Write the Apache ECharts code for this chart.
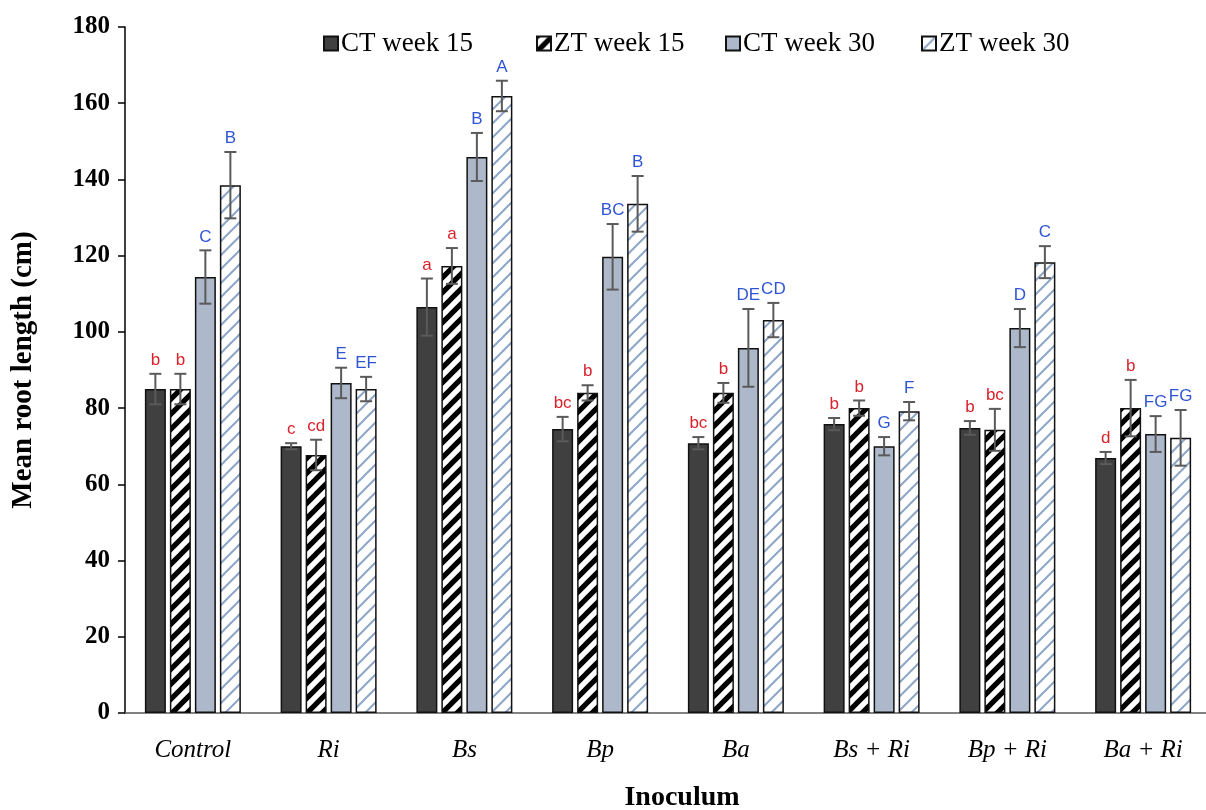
<!DOCTYPE html>
<html>
<head>
<meta charset="utf-8">
<script src="https://cdn.jsdelivr.net/npm/echarts@6/dist/echarts.min.js"></script>
<style>
  html, body { margin: 0; padding: 0; background: #fff; overflow: hidden; }
  #chart { width: 1206px; height: 810px; }
</style>
</head>
<body>
<div id="chart"></div>
<script>
const categories = ['Control', 'Ri', 'Bs', 'Bp', 'Ba', 'Bs + Ri', 'Bp + Ri', 'Ba + Ri'];
const seriesNames = ['CT week 15', 'ZT week 15', 'CT week 30', 'ZT week 30'];

const ct15 = [85, 70, 106.5, 74.5, 70.8, 75.8, 74.8, 66.9];
const ct15Err = [4, 0.8, 7.5, 3.2, 1.6, 1.6, 1.8, 1.6];
const ct15Letters = ['b', 'c', 'a', 'bc', 'bc', 'b', 'b', 'd'];

const zt15 = [85, 67.7, 117.3, 84, 84, 80, 74.3, 80];
const zt15Err = [4, 4, 4.7, 2, 2.6, 2, 5.5, 7.4];
const zt15Letters = ['b', 'cd', 'a', 'b', 'b', 'b', 'bc', 'b'];

const ct30 = [114.4, 86.6, 145.9, 119.7, 95.8, 70, 101, 73.2];
const ct30Err = [7, 4, 6.3, 8.6, 10.2, 2.4, 5, 4.7];
const ct30Letters = ['C', 'E', 'B', 'BC', 'DE', 'G', 'D', 'FG'];

const zt30 = [138.5, 85, 161.9, 133.6, 103.1, 79.2, 118.3, 72.2];
const zt30Err = [8.7, 3.2, 4, 7.3, 4.5, 2.4, 4.2, 7.3];
const zt30Letters = ['B', 'EF', 'A', 'B', 'CD', 'F', 'C', 'FG'];

const yTicks = [0, 20, 40, 60, 80, 100, 120, 140, 160, 180];

function stripe(bg, fg, lw, size) {
  const c = document.createElement('canvas');
  c.width = size; c.height = size;
  const ctx = c.getContext('2d');
  ctx.fillStyle = bg; ctx.fillRect(0, 0, size, size);
  ctx.strokeStyle = fg; ctx.lineWidth = lw; ctx.lineCap = 'square';
  for (const x0 of [-size, 0, size]) {
    ctx.beginPath();
    ctx.moveTo(x0, size);
    ctx.lineTo(x0 + size, 0);
    ctx.stroke();
  }
  return c;
}

const fills = [
  '#404040',
  { image: stripe('#ffffff', '#000000', 5.2, 15), repeat: 'repeat' },
  '#adb9ca',
  { image: stripe('#ffffff', '#8ea6c8', 2, 14), repeat: 'repeat' }
];

const means = [ct15, zt15, ct30, zt30];
const errs = [ct15Err, zt15Err, ct30Err, zt30Err];
const letters = [ct15Letters, zt15Letters, ct30Letters, zt30Letters];

const BAR_W = 21, GAP = 4;
const offsets = [0, 1, 2, 3].map(i => -(4 * BAR_W + 3 * GAP) / 2 + BAR_W / 2 + i * (BAR_W + GAP));

const barSeries = seriesNames.map((name, k) => ({
  name: name,
  type: 'bar',
  barWidth: BAR_W,
  barGap: (GAP / BAR_W * 100) + '%',
  data: means[k],
  itemStyle: { color: fills[k], borderColor: '#111', borderWidth: 1.5 },
  z: 2
}));

const errSeries = seriesNames.map((name, k) => ({
  type: 'custom',
  name: name + ' err',
  z: 5,
  silent: true,
  data: categories.map((c, i) => [i, means[k][i], errs[k][i]]),
  encode: { x: 0, y: 1 },
  renderItem: function (params, api) {
    const i = api.value(0);
    const m = api.value(1);
    const e = api.value(2);
    const top = api.coord([i, m + e]);
    const bot = api.coord([i, m - e]);
    const x = top[0] + offsets[k];
    const cap = 6;
    const st = { stroke: '#5a5a5a', lineWidth: 2 };
    const lw = letters[k][params.dataIndex];
    const isUpper = lw === lw.toUpperCase();
    return {
      type: 'group',
      children: [
        { type: 'line', shape: { x1: x, y1: top[1], x2: x, y2: bot[1] }, style: st },
        { type: 'line', shape: { x1: x - cap, y1: top[1], x2: x + cap, y2: top[1] }, style: st },
        { type: 'line', shape: { x1: x - cap, y1: bot[1], x2: x + cap, y2: bot[1] }, style: st },
        { type: 'text', style: {
            text: lw, x: x, y: top[1] - 5,
            textAlign: 'center', textVerticalAlign: 'bottom',
            fill: isUpper ? '#2f55d4' : '#d9232b',
            font: '17px "Liberation Sans", Arial, sans-serif'
        } }
      ]
    };
  }
}));

const legendLefts = [318, 531, 720, 916];
const legends = seriesNames.map((name, k) => ({
  data: [name],
  left: legendLefts[k],
  top: 25,
  icon: 'rect',
  itemWidth: 14,
  itemHeight: 14,
  itemGap: 0,
  textStyle: { fontFamily: '"Liberation Serif", serif', fontSize: 27, color: '#000', padding: [0, 0, 0, -2] }
}));

const chart = echarts.init(document.getElementById('chart'));
chart.setOption({
  backgroundColor: '#ffffff',
  animation: false,
  legend: legends,
  grid: { left: 125, width: 1086, top: 27, bottom: 97, outerBoundsMode: 'none', containLabel: false },
  xAxis: {
    type: 'category',
    data: categories,
    name: 'Inoculum',
    nameLocation: 'middle',
    nameGap: 71,
    nameTextStyle: { fontFamily: '"Liberation Serif", serif', fontWeight: 'bold', fontSize: 28, color: '#000', padding: [0, 0, 0, 28] },
    axisLine: { lineStyle: { color: '#595959', width: 1.5 } },
    axisTick: { show: false },
    axisLabel: { fontFamily: '"Liberation Serif", serif', fontStyle: 'italic', fontSize: 25, color: '#000', margin: 25 }
  },
  yAxis: {
    type: 'value',
    min: yTicks[0],
    max: yTicks[yTicks.length - 1],
    interval: 20,
    name: 'Mean root length (cm)',
    nameLocation: 'middle',
    nameGap: 87,
    nameTextStyle: { fontFamily: '"Liberation Serif", serif', fontWeight: 'bold', fontSize: 29, color: '#000' },
    axisLine: { show: true, lineStyle: { color: '#000', width: 1.5 } },
    axisTick: { show: true, inside: false, length: 7, lineStyle: { color: '#000', width: 1.5 } },
    splitLine: { show: false },
    axisLabel: { fontFamily: '"Liberation Serif", serif', fontWeight: 'bold', fontSize: 25, color: '#000', margin: 15 }
  },
  series: barSeries.concat(errSeries)
});
</script>
</body>
</html>
